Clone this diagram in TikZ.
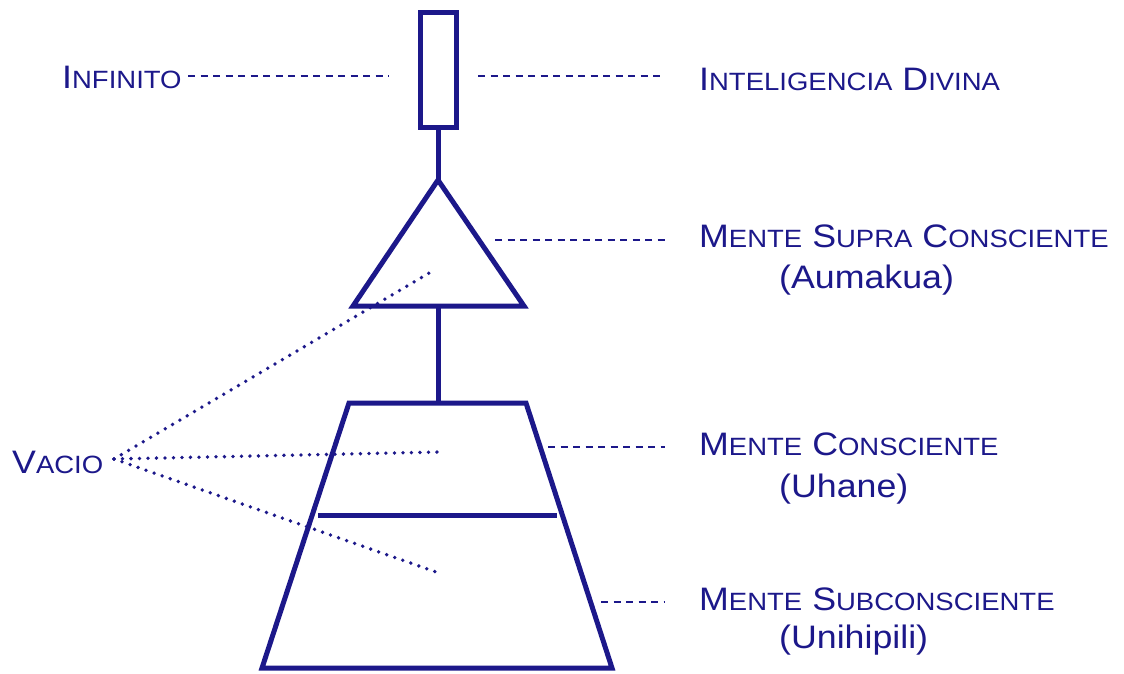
\documentclass[tikz,border=0pt]{standalone}
\usepackage{fontspec}
\usepackage{graphicx}
\setmainfont{Liberation Sans}
\definecolor{navy}{RGB}{28,24,138}
\newcommand\fsc[2]{#1{\fontsize{25}{30}\selectfont #2}}
\newcommand\lbl[1]{\scalebox{1.1}[1]{#1}}
\begin{document}
\begin{tikzpicture}[x=1pt,y=-1pt,
  shapeline/.style={draw=navy,line width=5pt,line join=miter},
  dashline/.style={draw=navy,line width=1.8pt,dash pattern=on 7pt off 5.5pt},
  dotline/.style={draw=navy,line width=3.8pt,line cap=round,dash pattern=on 0pt off 8.5pt},
  label/.style={anchor=base west,inner sep=0pt,text=navy,font=\fontsize{32.5}{38}\selectfont}]
\useasboundingbox (0,0) rectangle (1124,673);
% shapes
\coordinate (rtl) at (420,12);
\coordinate (rbr) at (456,127);
\coordinate (rb) at (438,127);
\coordinate (apex) at (438,180);
\coordinate (tbl) at (353,306);
\coordinate (tbr) at (524,306);
\coordinate (tb) at (438,306);
\coordinate (zt) at (438,403);
\coordinate (ztl) at (349,403);
\coordinate (ztr) at (526,403);
\coordinate (zml) at (318,515);
\coordinate (zmr) at (557,515);
\coordinate (zbl) at (262,668);
\coordinate (zbr) at (612,668);
\draw[shapeline] (rtl) rectangle (rbr);
\draw[shapeline] (rb) -- (apex);
\draw[shapeline] (apex) -- (tbr) -- (tbl) -- cycle;
\draw[shapeline] (tb) -- (zt);
\draw[shapeline] (ztl) -- (ztr) -- (zbr) -- (zbl) -- cycle;
\draw[shapeline] (zml) -- (zmr);
% labels
\node[label] (inf) at (62,88) {\lbl{\fsc{I}{NFINITO}}};
\node[label] (div) at (699,90) {\lbl{\fsc{I}{NTELIGENCIA} \fsc{D}{IVINA}}};
\node[label] (sup) at (699,247) {\lbl{\fsc{M}{ENTE} \fsc{S}{UPRA} \fsc{C}{ONSCIENTE}}};
\node[label] (aum) at (779,288) {\lbl{(Aumakua)}};
\node[label] (con) at (699,455) {\lbl{\fsc{M}{ENTE} \fsc{C}{ONSCIENTE}}};
\node[label] (uha) at (779,497) {\lbl{(Uhane)}};
\node[label] (sub) at (699,610) {\lbl{\fsc{M}{ENTE} \fsc{S}{UBCONSCIENTE}}};
\node[label] (uni) at (779,648) {\lbl{(Unihipili)}};
\node[label] (vac) at (12,473) {\lbl{\fsc{V}{ACIO}}};
% dashed leaders
\coordinate (d1a) at (188,76);
\coordinate (d1b) at (389,76);
\coordinate (d2a) at (478,76);
\coordinate (d2b) at (665,76);
\coordinate (d3a) at (495,240);
\coordinate (d3b) at (665,240);
\coordinate (d4a) at (548,447);
\coordinate (d4b) at (665,447);
\coordinate (d5a) at (601,602);
\coordinate (d5b) at (665,602);
\draw[dashline] (d1a) -- (d1b);
\draw[dashline] (d2a) -- (d2b);
\draw[dashline] (d3a) -- (d3b);
\draw[dashline] (d4a) -- (d4b);
\draw[dashline] (d5a) -- (d5b);
% dotted rays
\coordinate (v0) at (114,459);
\coordinate (v1) at (436,269);
\coordinate (v2) at (439,452);
\coordinate (v3) at (439,573);
\draw[dotline] (v0) -- (v1);
\draw[dotline] (v0) -- (v2);
\draw[dotline] (v0) -- (v3);
\end{tikzpicture}
\end{document}
